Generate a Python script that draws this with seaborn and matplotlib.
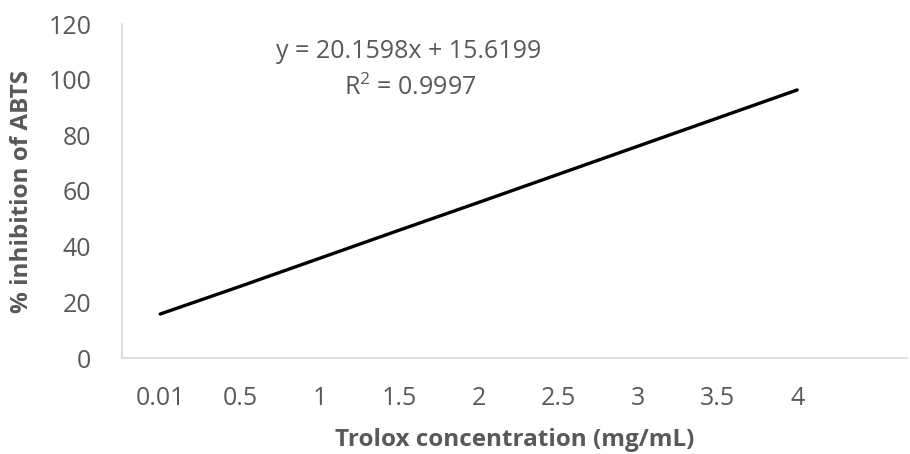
import matplotlib
matplotlib.use("Agg")
import matplotlib.pyplot as plt
import seaborn as sns
import numpy as np

categories = ["0.01", "0.5", "1", "1.5", "2", "2.5", "3", "3.5", "4"]
inhibition = [15.8, 25.7, 35.8, 45.9, 55.9, 66.0, 76.1, 86.2, 96.3]
y_ticks = [0, 20, 40, 60, 80, 100, 120]
equation_text = "y = 20.1598x + 15.6199"
r2_text = "R$^2$ = 0.9997"
x_label = "Trolox concentration (mg/mL)"
y_label = "% inhibition of ABTS"

sns.set_theme(style="white")
plt.rcParams['font.family'] = ['Open Sans', 'DejaVu Sans']
plt.rcParams['mathtext.fontset'] = 'custom'
plt.rcParams['mathtext.rm'] = 'Open Sans'

gray = "#595959"
fig = plt.figure(figsize=(9.1, 4.54), dpi=100)
ax = fig.add_axes([122/910, 1-358/454, (907-122)/910, (358-24)/454])

sns.lineplot(x=categories, y=inhibition, ax=ax, color="black", linewidth=2.4, sort=False)

ax.set_xlim(-0.48, 9.38)
ax.set_ylim(0, 120)
ax.set_yticks(y_ticks)
ax.set_xticks(range(len(categories)))
ax.set_xticklabels(categories)
ax.tick_params(axis="x", length=0, pad=20, labelsize=18, labelcolor=gray)
ax.tick_params(axis="y", length=0, pad=22, labelsize=18, labelcolor=gray)

for s in ["top", "right"]:
    ax.spines[s].set_visible(False)
for s in ["left", "bottom"]:
    ax.spines[s].set_color("#d9d9d9")
    ax.spines[s].set_linewidth(1.2)

ax.set_xlabel(x_label, fontsize=17.5, fontweight="bold", color=gray, va="center")
ax.set_ylabel(y_label, fontsize=17.5, fontweight="bold", color=gray, va="center")
ax.xaxis.set_label_coords(0.5, (358-440)/334)
ax.yaxis.set_label_coords((22-122)/785, 0.5)

fig.text(409/910, 1-49/454, equation_text, ha="center", va="center_baseline", fontsize=18, color=gray)
fig.text(410/910, 1-85/454, r2_text, ha="center", va="center_baseline", fontsize=18, color=gray)

fig.savefig("out.png", dpi=100)
